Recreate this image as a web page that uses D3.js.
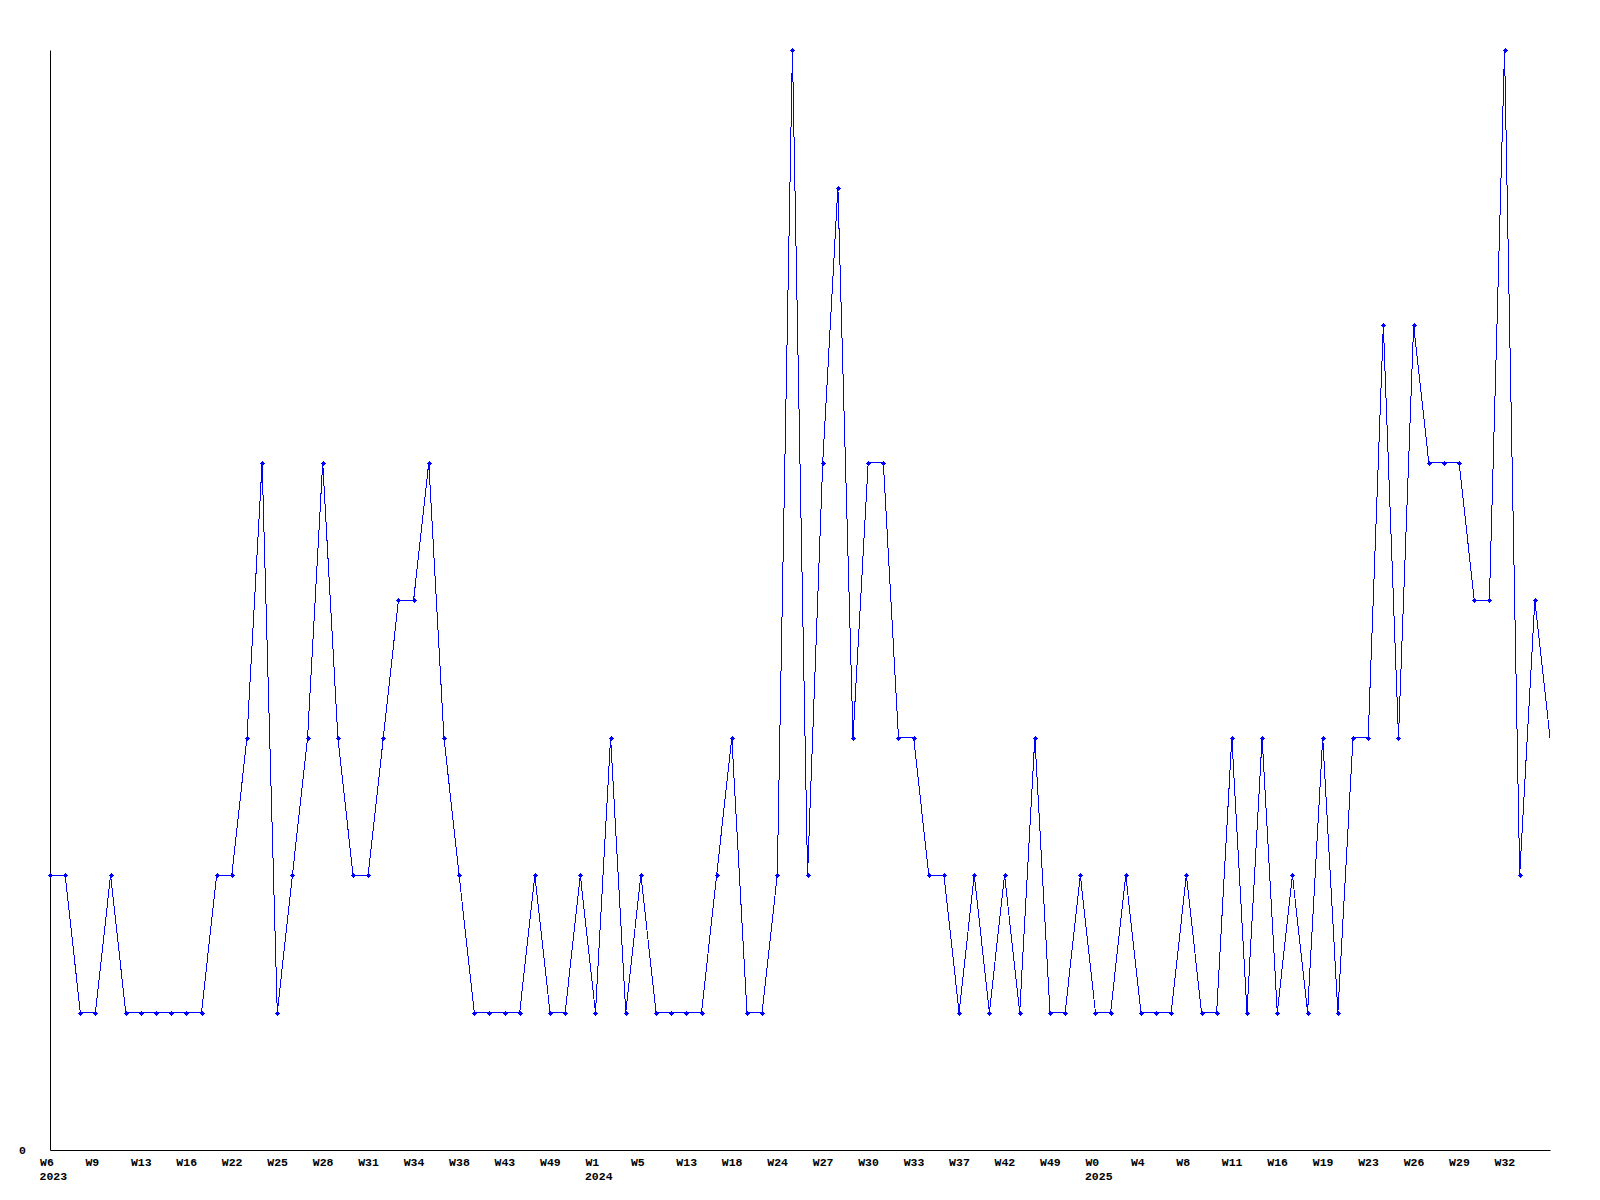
<!DOCTYPE html>
<html>
<head>
<meta charset="utf-8">
<script src="https://cdn.jsdelivr.net/npm/d3@7"></script>
<style>
  html, body { margin: 0; padding: 0; background: #ffffff; }
  svg { display: block; }
  text { font-family: "Liberation Mono", "DejaVu Sans Mono", monospace; font-weight: bold; font-size: 11.5px; fill: #000; }
</style>
</head>
<body>
<svg id="chart" width="1600" height="1200"></svg>
<script>
// ---- data ----
const values = [
  2, 2, 1, 1, 2, 1, 1, 1, 1, 1,
  1, 2, 2, 3, 5, 1, 2, 3, 5, 3,
  2, 2, 3, 4, 4, 5, 3, 2, 1, 1,
  1, 1, 2, 1, 1, 2, 1, 3, 1, 2,
  1, 1, 1, 1, 2, 3, 1, 1, 2, 8,
  2, 5, 7, 3, 5, 5, 3, 3, 2, 2,
  1, 2, 1, 2, 1, 3, 1, 1, 2, 1,
  1, 2, 1, 1, 1, 2, 1, 1, 3, 1,
  3, 1, 2, 1, 3, 1, 3, 3, 6, 3,
  6, 5, 5, 5, 4, 4, 8, 2, 4, 3
];
const tickIndex = [0, 3, 6, 9, 12, 15, 18, 21, 24, 27, 30, 33, 36, 39, 42, 45, 48,
                   51, 54, 57, 60, 63, 66, 69, 72, 75, 78, 81, 84, 87, 90, 93, 96];
const tickLabels = ["W6", "W9", "W13", "W16", "W22", "W25", "W28", "W31", "W34", "W38", "W43",
                    "W49", "W1", "W5", "W13", "W18", "W24", "W27", "W30", "W33", "W37", "W42",
                    "W49", "W0", "W4", "W8", "W11", "W16", "W19", "W23", "W26", "W29", "W32"];
const yearIndex = [0, 36, 69];
const yearLabels = ["2023", "2024", "2025"];
const yTickValues = [0];
const yMax = 8;

(function () {
  const svg = d3.select("#chart");
  const mLeft = 50, mRight = 1550, mTop = 50, mBottom = 1150;

  const x = d3.scaleLinear().domain([0, values.length - 1]).range([mLeft, mRight]);
  const y = d3.scaleLinear().domain([0, yMax]).range([mBottom, mTop]);

  // x axis
  const labelOf = new Map(tickIndex.map((d, i) => [d, tickLabels[i]]));
  const xAxis = svg.append("g")
    .attr("transform", `translate(0,${mBottom})`)
    .call(d3.axisBottom(x).tickValues(tickIndex).tickFormat(d => labelOf.get(d)).tickSize(0).tickSizeOuter(0));
  xAxis.attr("font-family", null).attr("font-size", null);
  xAxis.select(".domain").attr("stroke", "#000");
  xAxis.selectAll(".tick text")
    .attr("text-anchor", "start")
    .attr("x", -10.5)
    .attr("y", 15.5)
    .attr("dy", null);

  // year labels
  svg.append("g").selectAll("text")
    .data(yearIndex)
    .join("text")
    .attr("x", d => x(d) - 10.5)
    .attr("y", mBottom + 30)
    .attr("text-anchor", "start")
    .text((d, i) => yearLabels[i]);

  // y axis
  const yAxis = svg.append("g")
    .attr("transform", `translate(${mLeft},0)`)
    .call(d3.axisLeft(y).tickValues(yTickValues).tickFormat(d3.format("d")).tickSize(0).tickSizeOuter(0));
  yAxis.attr("font-family", null).attr("font-size", null);
  yAxis.select(".domain").attr("stroke", "#000");
  yAxis.selectAll(".tick text")
    .attr("text-anchor", "start")
    .attr("x", -31)
    .attr("y", 3.5)
    .attr("dy", null);

  // line
  const line = d3.line()
    .x((d, i) => x(i))
    .y(d => y(d));
  svg.append("path")
    .datum(values)
    .attr("fill", "none")
    .attr("stroke", "#0000ff")
    .attr("stroke-width", 1)
    .attr("shape-rendering", "crispEdges")
    .attr("d", line);

  // markers (small plus shapes); the last point has no marker in the reference
  const marker = "M-2.5,-0.5h5v1h-5z M-0.5,-2.5h1v5h-1z M-1.5,-1.5h3v3h-3z";
  svg.append("g").selectAll("path")
    .data(values.slice(0, values.length - 1))
    .join("path")
    .attr("transform", (d, i) => `translate(${Math.round(x(i)) + 0.5},${Math.round(y(d)) + 0.5})`)
    .attr("d", marker)
    .attr("fill", "#0000ff")
    .attr("shape-rendering", "crispEdges");
})();
</script>
</body>
</html>
